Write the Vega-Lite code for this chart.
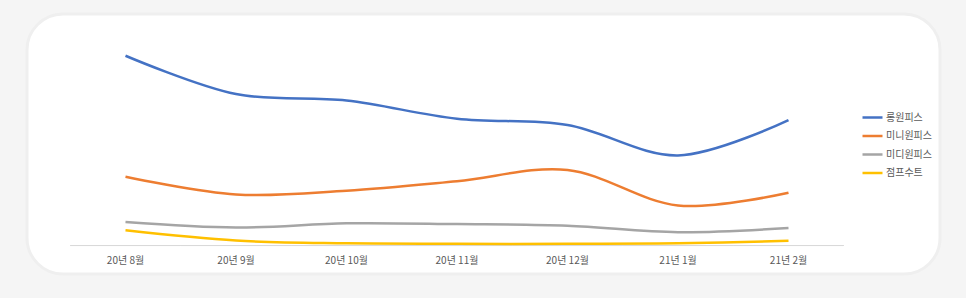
{
  "$schema": "https://vega.github.io/schema/vega-lite/v6.json",
  "width": 913,
  "height": 260,
  "autosize": {"type": "none"},
  "padding": {"left": 27, "top": 14, "right": 26, "bottom": 24},
  "background": "#f5f5f5",
  "config": {
    "view": {"fill": "white", "stroke": "#efefef", "strokeWidth": 3, "cornerRadius": 36},
    "font": "Noto Sans CJK KR"
  },
  "datasets": {
    "months": [
      {"month": "20년 8월"}, {"month": "20년 9월"}, {"month": "20년 10월"}, {"month": "20년 11월"},
      {"month": "20년 12월"}, {"month": "21년 1월"}, {"month": "21년 2월"}
    ],
    "series": [
      {"month": "20년 8월", "item": "롱원피스", "value": 100},
      {"month": "20년 9월", "item": "롱원피스", "value": 79.8},
      {"month": "20년 10월", "item": "롱원피스", "value": 76.4},
      {"month": "20년 11월", "item": "롱원피스", "value": 66.8},
      {"month": "20년 12월", "item": "롱원피스", "value": 63.5},
      {"month": "21년 1월", "item": "롱원피스", "value": 47.5},
      {"month": "21년 2월", "item": "롱원피스", "value": 66.1},
      {"month": "20년 8월", "item": "미니원피스", "value": 36.2},
      {"month": "20년 9월", "item": "미니원피스", "value": 26.9},
      {"month": "20년 10월", "item": "미니원피스", "value": 28.9},
      {"month": "20년 11월", "item": "미니원피스", "value": 33.9},
      {"month": "20년 12월", "item": "미니원피스", "value": 39.8},
      {"month": "21년 1월", "item": "미니원피스", "value": 21.1},
      {"month": "21년 2월", "item": "미니원피스", "value": 27.8},
      {"month": "20년 8월", "item": "미디원피스", "value": 12.4},
      {"month": "20년 9월", "item": "미디원피스", "value": 9.5},
      {"month": "20년 10월", "item": "미디원피스", "value": 11.7},
      {"month": "20년 11월", "item": "미디원피스", "value": 11.3},
      {"month": "20년 12월", "item": "미디원피스", "value": 10.4},
      {"month": "21년 1월", "item": "미디원피스", "value": 7.0},
      {"month": "21년 2월", "item": "미디원피스", "value": 9.2},
      {"month": "20년 8월", "item": "점프수트", "value": 8.0},
      {"month": "20년 9월", "item": "점프수트", "value": 2.6},
      {"month": "20년 10월", "item": "점프수트", "value": 1.2},
      {"month": "20년 11월", "item": "점프수트", "value": 0.9},
      {"month": "20년 12월", "item": "점프수트", "value": 0.9},
      {"month": "21년 1월", "item": "점프수트", "value": 1.2},
      {"month": "21년 2월", "item": "점프수트", "value": 2.5}
    ]
  },
  "encoding": {
    "x": {
      "field": "month",
      "type": "nominal",
      "scale": {
        "type": "band",
        "domain": ["20년 8월", "20년 9월", "20년 10월", "20년 11월", "20년 12월", "21년 1월", "21년 2월"],
        "paddingInner": 0,
        "paddingOuter": 0.6312,
        "align": 0.31
      },
      "axis": {
        "title": null,
        "domain": false,
        "ticks": false,
        "grid": false,
        "labelAngle": 0,
        "labelPadding": 10,
        "labelColor": "#595959",
        "labelFontSize": 10,
        "offset": -28.5
      }
    }
  },
  "layer": [
    {
      "data": {"name": "months"},
      "mark": {"type": "rect", "fill": "transparent", "stroke": "#d9d9d9", "strokeWidth": 1},
      "encoding": {
        "y": {"datum": 0, "type": "quantitative", "scale": {"domain": [-15, 122], "nice": false, "zero": false}, "axis": null},
        "y2": {"datum": 0}
      }
    },
    {
      "data": {"name": "series"},
      "mark": {"type": "line", "interpolate": "catmull-rom", "strokeWidth": 2.5},
      "encoding": {
        "y": {"field": "value", "type": "quantitative", "scale": {"domain": [-15, 122], "nice": false, "zero": false}, "axis": null},
        "color": {
          "field": "item",
          "type": "nominal",
          "scale": {
            "domain": ["롱원피스", "미니원피스", "미디원피스", "점프수트"],
            "range": ["#4472C4", "#ED7D31", "#A5A5A5", "#FFC000"]
          },
          "legend": {
            "orient": "none",
            "legendX": 834,
            "legendY": 92,
            "title": null,
            "padding": 0,
            "symbolType": "stroke",
            "symbolSize": 400,
            "symbolStrokeWidth": 2.5,
            "labelFontSize": 10,
            "labelColor": "#595959",
            "labelOffset": 2,
            "rowPadding": 1.5
          }
        }
      }
    }
  ]
}
